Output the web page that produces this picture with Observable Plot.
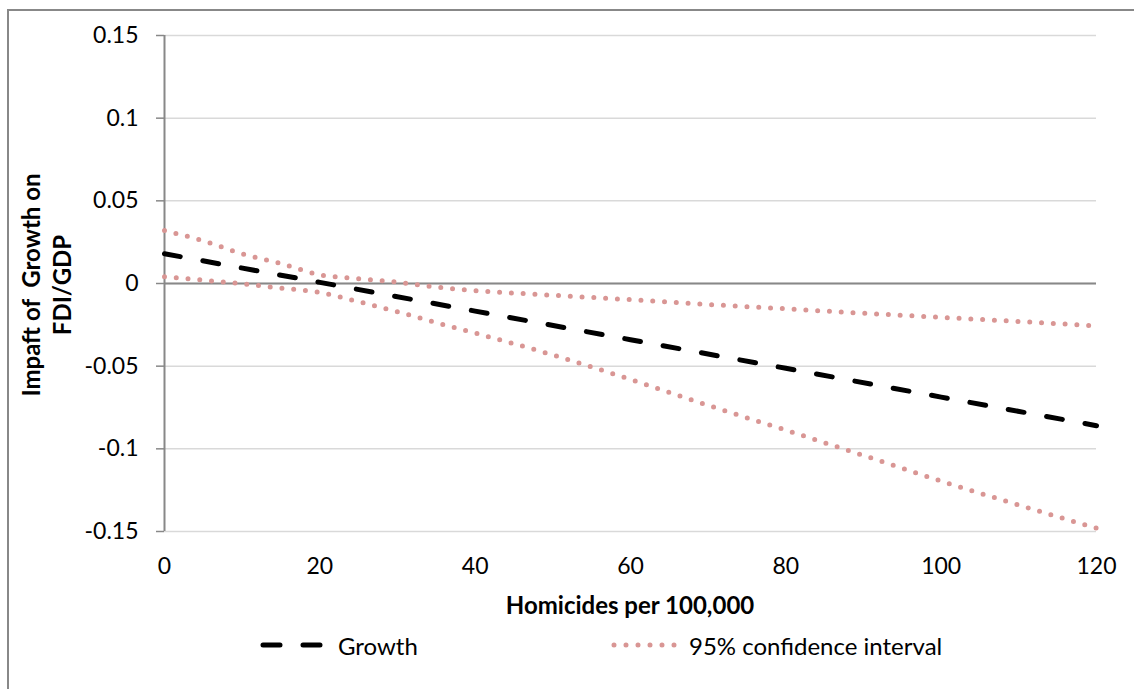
<!DOCTYPE html>
<html>
<head>
<meta charset="utf-8">
<script src="https://cdn.jsdelivr.net/npm/d3@7"></script>
<script src="https://cdn.jsdelivr.net/npm/@observablehq/plot@0.6"></script>
<style>
  html, body { margin: 0; padding: 0; background: #fff; }
  #wrap { position: relative; width: 1134px; height: 689px; overflow: hidden; font-family: Lato, "Open Sans", sans-serif; color: #000; }
  #frame { position: absolute; left: 7px; top: 9px; width: 1300px; height: 900px; border-left: 2px solid #888; border-top: 2px solid #888; }
  #chart { position: absolute; left: 0; top: 0; }
  .ylab { position: absolute; left: 46px; top: 285px; transform: translate(-50%, -50%) rotate(-90deg); font-weight: bold; font-size: 24px; line-height: 31px; text-align: center; white-space: pre; }
  .xlab { position: absolute; left: 630px; top: 604px; transform: translate(-50%, -50%); font-weight: bold; font-size: 24px; white-space: nowrap; }
  .legtext { position: absolute; top: 645px; transform: translateY(-50%); font-size: 24px; white-space: nowrap; }
  #legsvg { position: absolute; left: 0; top: 0; }
</style>
</head>
<body>
<div id="wrap">
  <div id="frame"></div>
  <div id="chart"></div>
  <div class="ylab">Impaft of  Growth on
FDI/GDP</div>
  <div class="xlab">Homicides per 100,000</div>
  <svg id="legsvg" width="1134" height="689">
    <line x1="263" y1="645" x2="320" y2="645" stroke="#000" stroke-width="5" stroke-linecap="round" stroke-dasharray="17 23"></line>
    <line x1="614" y1="645" x2="675" y2="645" stroke="#d99694" stroke-width="5" stroke-linecap="round" stroke-dasharray="0 12"></line>
  </svg>
  <div class="legtext" style="left:338px">Growth</div>
  <div class="legtext" style="left:689px">95% confidence interval</div>
</div>
<script>
// ---- data ----
const xTicks = [0, 20, 40, 60, 80, 100, 120];
const yTicks = [-0.15, -0.1, -0.05, 0, 0.05, 0.1, 0.15];
const yTickLabels = ["-0.15", "-0.1", "-0.05", "0", "0.05", "0.1", "0.15"];

const growthX = [0, 20, 40, 60, 80, 100, 120];
const growthY = [0.018, 0.0007, -0.0167, -0.034, -0.0513, -0.0687, -0.086];

const ciX = [0, 5, 10, 15, 20, 25, 30, 35, 40, 50, 60, 70, 80, 90, 100, 110, 120];
const ciUpper = [0.032, 0.0258, 0.018, 0.012, 0.0053, 0.0029, 0.0008, -0.0022, -0.0043, -0.0071, -0.0098, -0.0127, -0.0153, -0.018, -0.0205, -0.023, -0.0256];
const ciLower = [0.0041, 0.002, -0.0002, -0.0028, -0.0054, -0.011, -0.0171, -0.0237, -0.030, -0.0432, -0.058, -0.0737, -0.0887, -0.104, -0.1195, -0.134, -0.148];

const growth = growthX.map((x, i) => ({x, y: growthY[i]}));
const upper = ciX.map((x, i) => ({x, y: ciUpper[i]}));
const lower = ciX.map((x, i) => ({x, y: ciLower[i]}));

const ciStyle = {x: "x", y: "y", stroke: "#d99694", strokeWidth: 5, strokeDasharray: "0 11.8", strokeLinecap: "round", curve: "monotone-x"};

const chart = Plot.plot({
  width: 1134,
  height: 689,
  marginLeft: 164,
  marginRight: 38,
  marginTop: 35,
  marginBottom: 158,
  style: {fontFamily: "Lato, 'Open Sans', sans-serif", fontSize: "23px", background: "transparent", color: "#000", overflow: "visible"},
  x: {domain: [0, 120]},
  y: {domain: [-0.15, 0.15]},
  marks: [
    Plot.gridY(yTicks, {stroke: "#d9d9d9", strokeOpacity: 1, strokeWidth: 1.5}),
    Plot.ruleY([0], {stroke: "#888", strokeWidth: 2}),
    Plot.ruleX([0], {stroke: "#888", strokeWidth: 2}),
    Plot.axisY(yTicks, {tickSize: 8, tickPadding: 18, stroke: "#888", strokeWidth: 1.5, tickFormat: d => yTickLabels[yTicks.indexOf(d)], label: null}),
    Plot.axisX(xTicks, {tickSize: 0, tickPadding: 26, label: null, tickFormat: d => String(d)}),
    Plot.line(upper, ciStyle),
    Plot.line(lower, ciStyle),
    Plot.line(growth, {x: "x", y: "y", stroke: "#000", strokeWidth: 5, strokeDasharray: "16 23", strokeLinecap: "round"})
  ]
});
document.getElementById("chart").appendChild(chart);
</script>
</body>
</html>
